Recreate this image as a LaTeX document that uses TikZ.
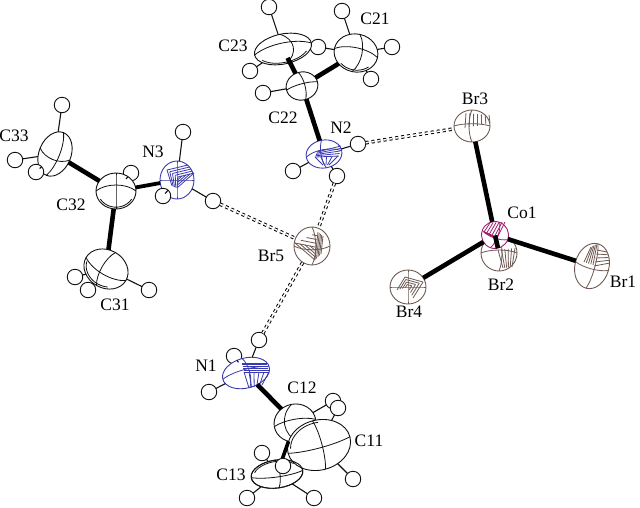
\documentclass[tikz,border=0pt]{standalone}
\usepackage{fontspec}
\setmainfont{Liberation Serif}
\usepackage{xcolor}
\usepackage{tikz}
\usetikzlibrary{calc, shapes.geometric}
\definecolor{Ink}{HTML}{111111}
\definecolor{NitroBlue}{HTML}{3A3AB0}
\definecolor{BromBrown}{HTML}{6E5A52}
\definecolor{CobaltPink}{HTML}{A02070}
\tikzset{
  atomring/.style={shape=ellipse, inner sep=0pt, outer sep=0pt, fill=white, line width=0.9pt},
  arcline/.style={line width=0.8pt},
  hatchline/.style={line width=0.8pt},
  hatom/.style={circle, draw=Ink, fill=white, inner sep=0pt, outer sep=0pt, minimum size=15.5pt, line width=0.9pt},
  bond/.style={line width=4.6pt, color=black},
  hlink/.style={line width=1.1pt, color=Ink},
  hbond/.style={draw=black, double=white, double distance=1.5pt, line width=1pt, dash pattern=on 3pt off 3pt},
  label/.style={color=black, font=\fontsize{17.5}{17.5}\selectfont, inner sep=0pt},
}
% name, colour, x, y, rx, ry, rotation, bulge of long arc, bulge of short arc
\newcommand{\atom}[9]{%
  \node[atomring, draw=#2, minimum width={2*#5pt}, minimum height={2*#6pt}, rotate=#7] (#1) at (#3,#4) {};
  \begin{scope}[shift={(#3,#4)}, rotate=#7]
    \draw[#2, arcline] (-#5,0) .. controls (-#5/2,#8) and (#5/2,#8) .. (#5,0);
    \draw[#2, arcline] (0,-#6) .. controls (#9,-#6/2) and (#9,#6/2) .. (0,#6);
  \end{scope}}
% second rim line: x, y, rx, ry, rotation, angle from, angle to
\newcommand{\rim}[7]{%
  \begin{scope}[shift={(#1,#2)}, rotate=#5]
    \draw[Ink, arcline] plot[domain=#6:#7, samples=12, smooth] ({0.9*#3*cos(\x)},{0.9*#4*sin(\x)});
  \end{scope}}
% colour, corners: stripes run from edge 1-4 to edge 2-3, [number of gaps]
\newcommand{\hatch}[6][4]{%
  \foreach \i [evaluate=\i as \t using \i/#1] in {0,...,#1} {
    \draw[#2, hatchline] ($#3!\t!#6$) -- ($#4!\t!#5$);
  }}

\begin{document}
\begin{tikzpicture}[x=1pt, y=-1pt]
  \useasboundingbox (0,0) rectangle (640,507);

  % Hydrogens behind the ellipsoids
  \node[hatom] (h2b) at (318,47) {};
  \node[hatom] (h3b) at (131,173) {};
  \node[hatom] (h1b) at (234,356) {};
  \node[hatom] (h1c) at (333,401) {};
  \node[hatom] (h1d) at (262,453) {};
  \node[hatom] (h3c) at (75,277) {};

  % Cation around N2
  \atom{c23}{Ink}{283}{49}{29}{15}{12}{-8}{14}
  \rim{283}{49}{29}{15}{12}{30}{150}
  \atom{c21}{Ink}{356}{53}{22}{19}{-12}{-7}{8}
  \rim{356}{53}{22}{19}{-12}{40}{130}
  \atom{c22}{Ink}{302}{86}{16}{14}{15}{-3}{4}
  \atom{n2}{NitroBlue}{324}{154}{18}{14}{10}{-6}{-4}
  \hatch{NitroBlue}{(317,152)}{(341,146)}{(339,156)}{(315,157)}
  \hatch{NitroBlue}{(315,157)}{(323,165)}{(329,165)}{(338,156)}
  \draw[bond, shorten <=10pt] (c23.center) -- (c22);
  \draw[bond] (c21) -- (c22);
  \draw[bond] (c22) -- (n2);

  % Cation around N3
  \atom{c33}{Ink}{55}{154}{23}{16}{68}{6}{-8}
  \atom{c32}{Ink}{116}{191}{20}{18}{0}{-8}{0}
  \rim{116}{191}{20}{18}{0}{30}{150}
  \atom{c31}{Ink}{106}{269}{23}{19}{-30}{8}{-6}
  \rim{106}{269}{23}{19}{-30}{60}{170}
  \atom{n3}{NitroBlue}{177}{180}{17}{19}{0}{0}{0}
  \hatch{NitroBlue}{(167,170)}{(188,165)}{(194,173)}{(178,177)}
  \hatch{NitroBlue}{(167,170)}{(172,186)}{(177,188)}{(178,177)}
  \hatch{NitroBlue}{(177,188)}{(194,173)}{(178,177)}{(178,177)}
  \draw[bond] (c33) -- (c32);
  \draw[bond] (c32) -- (c31);
  \draw[bond, line width=3.8pt] (c32) -- (n3);

  % Cation around N1
  \atom{n1}{NitroBlue}{246}{373}{24}{15}{15}{-5}{5}
  \hatch[5]{NitroBlue}{(242,363)}{(267,363)}{(269,372)}{(244,372)}
  \hatch[5]{NitroBlue}{(244,372)}{(249,388)}{(262,385)}{(269,372)}
  \atom{c12}{Ink}{295}{423}{21}{19}{10}{-5}{-14}
  \atom{c13}{Ink}{277}{474}{26}{14}{8}{4}{4}
  \atom{c11}{Ink}{319}{445}{32}{25}{15}{4}{4}
  \rim{319}{445}{32}{25}{15}{190}{280}
  \node[atomring, draw=Ink, fill=none, minimum width=52pt, minimum height=28pt, rotate=8] (c13r) at (277,474) {};
  \rim{277}{474}{26}{14}{8}{200}{320}
  \draw[bond, line width=3.6pt] (c12) -- (c13r);
  \draw[bond] (n1) -- (c12);

  % Anion
  \atom{br2}{BromBrown}{499}{253}{18}{18}{0}{-4}{4}
  \hatch[5]{BromBrown}{(498,250)}{(503,268)}{(512,267)}{(515,248)}
  \atom{co1}{CobaltPink}{495}{235}{13.5}{13.5}{-20}{4}{4}
  \hatch[5]{CobaltPink}{(484,232)}{(490,223)}{(505,222)}{(497,238)}
  \draw[CobaltPink, line width=1.6pt] (484,232) -- (497,238);
  \atom{br3}{BromBrown}{472}{126}{18}{16}{0}{-3}{-4}
  \hatch[6]{BromBrown}{(466,113)}{(465,128)}{(490,123)}{(489,115)}
  \atom{br1}{BromBrown}{592}{266}{17}{23}{-15}{4}{4}
  \hatch{BromBrown}{(584,262)}{(591,247)}{(597,244)}{(593,265)}
  \hatch{BromBrown}{(597,250)}{(607,252)}{(610,263)}{(594,266)}
  \atom{br4}{BromBrown}{408}{287}{18}{17}{0}{0}{0}
  \hatch{BromBrown}{(397,290)}{(405,277)}{(408,287)}{(408,287)}
  \hatch{BromBrown}{(405,277)}{(423,282)}{(408,287)}{(408,287)}
  \hatch{BromBrown}{(423,282)}{(413,298)}{(408,287)}{(408,287)}
  \draw[bond] (co1) -- (br1);
  \draw[bond] (co1) -- (br3);
  \draw[bond] (co1) -- (br4);
  \draw[bond] (co1) -- (br2);

  % Free bromide
  \atom{br5}{BromBrown}{312}{246}{18}{19}{0}{5}{5}
  \hatch{BromBrown}{(295,243)}{(315,247)}{(318,232)}{(318,232)}
  \hatch{BromBrown}{(295,243)}{(315,260)}{(315,247)}{(315,247)}
  \hatch{BromBrown}{(318,232)}{(315,260)}{(321,254)}{(323,236)}

  % Hydrogens in front
  \node[hatom] (h2a) at (269,7) {};
  \node[hatom] (h2c) at (342,11) {};
  \node[hatom] (h2d) at (392,47) {};
  \node[hatom] (h2e) at (371,79) {};
  \node[hatom] (h2f) at (250,71) {};
  \node[hatom] (h2g) at (263,93) {};
  \node[hatom] (h2h) at (358,144) {};
  \node[hatom] (h2i) at (293,171) {};
  \node[hatom] (h2j) at (337,176) {};
  \node[hatom] (h3d) at (62,105) {};
  \node[hatom] (h3e) at (15,160) {};
  \node[hatom] (h3f) at (36,172) {};
  \node[hatom] (h3g) at (183,132) {};
  \node[hatom] (h3h) at (163,196) {};
  \node[hatom] (h3i) at (213,201) {};
  \node[hatom] (h3j) at (88,290) {};
  \node[hatom] (h3k) at (149,290) {};
  \node[hatom] (h1a) at (259,340) {};
  \node[hatom] (h1e) at (209,392) {};
  \node[hatom] (h1f) at (338,408) {};
  \node[hatom] (h1g) at (353,479) {};
  \node[hatom] (h1h) at (283,466) {};
  \node[hatom] (h1i) at (247,498) {};
  \node[hatom] (h1j) at (314,498) {};

  % Bonds to hydrogen
  \draw[hlink] (c23) -- (h2a);
  \draw[hlink] (c23) -- (h2f);
  \draw[hlink] (c21) -- (h2b);
  \draw[hlink] (c21) -- (h2c);
  \draw[hlink] (c21) -- (h2d);
  \draw[hlink] (c21) -- (h2e);
  \draw[hlink] (c22) -- (h2g);
  \draw[hlink] (n2) -- (h2h);
  \draw[hlink] (n2) -- (h2i);
  \draw[hlink] (n2) -- (h2j);
  \draw[hlink] (c33) -- (h3d);
  \draw[hlink] (c33) -- (h3e);
  \draw[hlink] (c33) -- (h3f);
  \draw[hlink] (c32) -- (h3b);
  \draw[hlink] (n3) -- (h3g);
  \draw[hlink] (n3) -- (h3h);
  \draw[hlink] (n3) -- (h3i);
  \draw[hlink] (c31) -- (h3c);
  \draw[hlink] (c31) -- (h3j);
  \draw[hlink] (c31) -- (h3k);
  \draw[hlink] (n1) -- (h1a);
  \draw[hlink] (n1) -- (h1b);
  \draw[hlink] (n1) -- (h1e);
  \draw[hlink] (c12) -- (h1c);
  \draw[hlink] (c11) -- (h1f);
  \draw[hlink] (c11) -- (h1g);
  \draw[hlink] (c13r) -- (h1d);
  \draw[hlink] (c13r) -- (h1i);
  \draw[hlink] (c13r) -- (h1j);

  % Hydrogen bonds
  \draw[hbond] (h2h) -- (br3);
  \draw[hbond] (h2j) -- (br5);
  \draw[hbond] (h3i) -- (br5);
  \draw[hbond] (h1a) -- (br5);

  % Labels
  \node[label] (lc21) at (375,19) {C21};
  \node[label] (lc23) at (233,46) {C23};
  \node[label] (lc22) at (283,118) {C22};
  \node[label] (ln2) at (341,128) {N2};
  \node[label] (ln3) at (153,152) {N3};
  \node[label] (lc33) at (14,136) {C33};
  \node[label] (lc32) at (71,205) {C32};
  \node[label] (lc31) at (115,305) {C31};
  \node[label] (lbr5) at (271,256) {Br5};
  \node[label] (lbr3) at (475,99) {Br3};
  \node[label] (lco1) at (522,213) {Co1};
  \node[label] (lbr2) at (501,285) {Br2};
  \node[label] (lbr1) at (623,282) {Br1};
  \node[label] (lbr4) at (409,312) {Br4};
  \node[label] (ln1) at (206,366) {N1};
  \node[label] (lc12) at (302,388) {C12};
  \node[label] (lc11) at (369,441) {C11};
  \node[label] (lc13) at (231,475) {C13};
\end{tikzpicture}
\end{document}
